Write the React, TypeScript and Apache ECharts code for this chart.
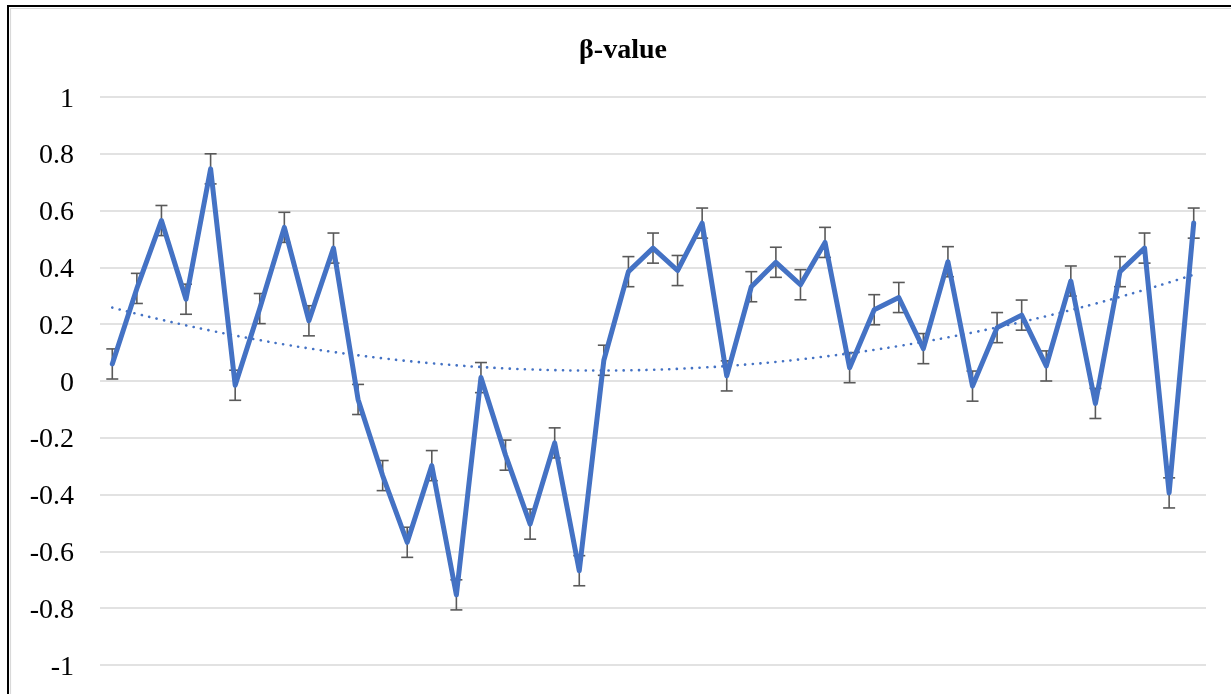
import React, { useEffect, useRef } from "react";
import * as echarts from "echarts";

const categories = [
  "1", "2", "3", "4", "5", "6", "7", "8", "9", "10",
  "11", "12", "13", "14", "15", "16", "17", "18", "19", "20",
  "21", "22", "23", "24", "25", "26", "27", "28", "29", "30",
  "31", "32", "33", "34", "35", "36", "37", "38", "39", "40",
  "41", "42", "43", "44", "45",
];

const betaValues = [
  0.06, 0.326, 0.565, 0.288, 0.747, -0.015, 0.255, 0.541, 0.212, 0.468,
  -0.065, -0.333, -0.568, -0.298, -0.753, 0.012, -0.261, -0.504, -0.218, -0.668,
  0.073, 0.385, 0.468, 0.389, 0.556, 0.018, 0.332, 0.418, 0.339, 0.488,
  0.047, 0.251, 0.294, 0.114, 0.42, -0.018, 0.188, 0.232, 0.053, 0.352,
  -0.079, 0.385, 0.468, -0.394, 0.556,
];

// symmetric error amount
const errorAmount = 0.053;

const yTicks = [-1, -0.8, -0.6, -0.4, -0.2, 0, 0.2, 0.4, 0.6, 0.8, 1];

const titleText = "β-value";

// Polynomial (order 2) trendline from the data, as a spreadsheet trendline does
function quadraticFit(ys: number[]): number[] {
  const n = ys.length;
  let s0 = 0, s1 = 0, s2 = 0, s3 = 0, s4 = 0, t0 = 0, t1 = 0, t2 = 0;
  for (let i = 0; i < n; i++) {
    const x = i + 1;
    const y = ys[i];
    s0 += 1; s1 += x; s2 += x * x; s3 += x * x * x; s4 += x * x * x * x;
    t0 += y; t1 += x * y; t2 += x * x * y;
  }
  const M = [
    [s4, s3, s2, t2],
    [s3, s2, s1, t1],
    [s2, s1, s0, t0],
  ];
  for (let c = 0; c < 3; c++) {
    let p = c;
    for (let r = c + 1; r < 3; r++) if (Math.abs(M[r][c]) > Math.abs(M[p][c])) p = r;
    [M[c], M[p]] = [M[p], M[c]];
    for (let r = 0; r < 3; r++) {
      if (r === c) continue;
      const f = M[r][c] / M[c][c];
      for (let k = c; k < 4; k++) M[r][k] -= f * M[c][k];
    }
  }
  const a = M[0][3] / M[0][0];
  const b = M[1][3] / M[1][1];
  const c = M[2][3] / M[2][2];
  return ys.map((_, i) => {
    const x = i + 1;
    return a * x * x + b * x + c;
  });
}

export default function App() {
  const ref = useRef<HTMLDivElement>(null);

  useEffect(() => {
    if (!ref.current) return;
    const chart = echarts.init(ref.current, null, { renderer: "svg" });
    const trend = quadraticFit(betaValues);
    const errData = betaValues.map((v, i) => [i, v - errorAmount, v + errorAmount]);

    chart.setOption({
      animation: false,
      textStyle: { fontFamily: "Liberation Serif" },
      grid: { left: 100, right: 25, top: 97, bottom: 29 },
      xAxis: {
        type: "category",
        data: categories,
        boundaryGap: true,
        axisLine: { show: false },
        axisTick: { show: false },
        axisLabel: { show: false },
        splitLine: { show: false },
      },
      yAxis: {
        type: "value",
        min: yTicks[0],
        max: yTicks[yTicks.length - 1],
        interval: 0.2,
        axisLine: { show: false },
        axisTick: { show: false },
        axisLabel: {
          margin: 26,
          fontFamily: "Liberation Serif",
          fontSize: 28,
          color: "#000",
          formatter: (v: number) => String(Math.round(v * 10) / 10),
        },
        splitLine: { show: true, lineStyle: { color: "#D9D9D9", width: 1.5 } },
      },
      graphic: [
        {
          type: "text",
          x: 623,
          y: 48,
          style: {
            text: titleText,
            fontFamily: "Liberation Serif",
            fontSize: 28,
            fontWeight: "bold",
            fill: "#000",
            align: "center",
            verticalAlign: "middle",
          },
        },
        {
          type: "rect",
          silent: true,
          shape: { x: 8, y: 6, width: 1400, height: 900 },
          style: { fill: "none", stroke: "#000", lineWidth: 2 },
          z: 100,
        },
        {
          type: "rect",
          silent: true,
          shape: { x: 10.5, y: 8.5, width: 1400, height: 900 },
          style: { fill: "none", stroke: "#D9D9D9", lineWidth: 1.2 },
          z: 100,
        },
      ],
      series: [
        {
          type: "line",
          z: 3,
          data: betaValues,
          showSymbol: false,
          symbol: "none",
          lineStyle: { color: "#4472C4", width: 5, join: "round", cap: "round" },
        },
        {
          type: "line",
          z: 2,
          data: trend,
          smooth: true,
          showSymbol: false,
          symbol: "none",
          lineStyle: { color: "#4472C4", width: 2.6, type: [0.1, 7.5], cap: "round" },
        },
        {
          type: "custom",
          z: 1,
          data: errData,
          encode: { x: 0, y: [1, 2] },
          renderItem: (params: any, api: any) => {
            const x = api.value(0);
            const lo = api.coord([x, api.value(1)]);
            const hi = api.coord([x, api.value(2)]);
            const hw = 6;
            return {
              type: "group",
              children: [
                { type: "line", shape: { x1: hi[0], y1: hi[1], x2: lo[0], y2: lo[1] }, style: { stroke: "#595959", lineWidth: 1.6 } },
                { type: "line", shape: { x1: hi[0] - hw, y1: hi[1], x2: hi[0] + hw, y2: hi[1] }, style: { stroke: "#595959", lineWidth: 1.6 } },
                { type: "line", shape: { x1: lo[0] - hw, y1: lo[1], x2: lo[0] + hw, y2: lo[1] }, style: { stroke: "#595959", lineWidth: 1.6 } },
              ],
            };
          },
        },
      ],
    });

    return () => chart.dispose();
  }, []);

  return <div ref={ref} style={{ position: "fixed", left: 0, top: 0, width: 1231, height: 694 }} />;
}
